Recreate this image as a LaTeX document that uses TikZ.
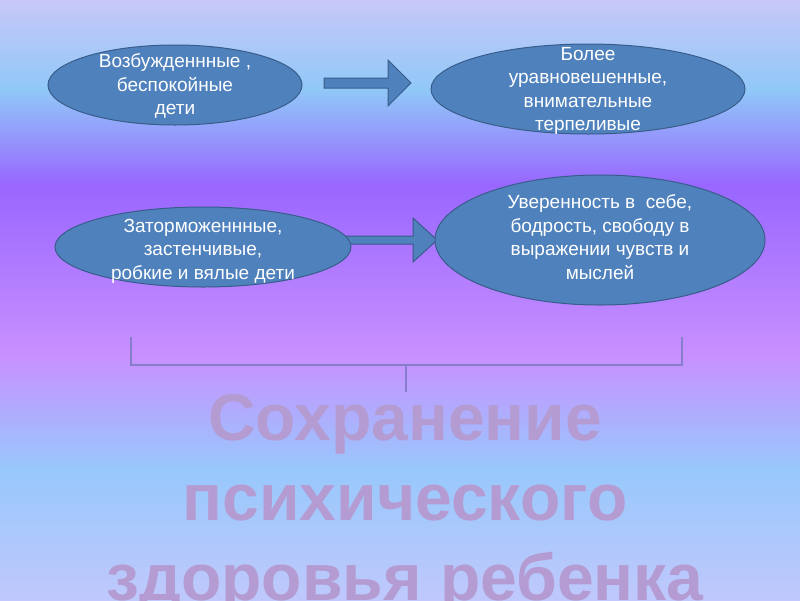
\documentclass[tikz,border=0pt]{standalone}
\usepackage{fontspec}
\setmainfont{Liberation Sans}
\usetikzlibrary{shapes.geometric}
\definecolor{bgA}{HTML}{C8C8F8}
\definecolor{bgB}{HTML}{90C8F8}
\definecolor{bgC}{HTML}{9966FF}
\definecolor{bgD}{HTML}{C890FF}
\definecolor{bgE}{HTML}{98C8FC}
\definecolor{bgF}{HTML}{C0C8FC}
\definecolor{blueFill}{HTML}{4F81BD}
\definecolor{blueLine}{HTML}{385D8A}
\definecolor{titleCol}{HTML}{B49CD2}
\definecolor{brCol}{RGB}{135,125,205}
\tikzset{
  ell/.style={ellipse, draw=blueLine, fill=blueFill, line width=1pt, inner sep=0pt},
  etext/.style={text=white, align=center, inner sep=0pt, font=\fontsize{19}{23.5}\selectfont},
  blockarrow/.style={draw=blueLine, fill=blueFill, line width=1pt, line join=miter},
  ttl/.style={text=titleCol, anchor=base, inner sep=0pt, font=\fontsize{66}{80}\selectfont\bfseries},
  brk/.style={draw=brCol, line width=1.5pt}
}
\begin{document}
\begin{tikzpicture}[x=1pt,y=-1pt]
\useasboundingbox (0,0) rectangle (800,600);
\clip (0,0) rectangle (800,600);
% background
\shade[top color=bgA, bottom color=bgB] (0,-1) rectangle (800,90);
\shade[top color=bgB, bottom color=bgC] (0,89.5) rectangle (800,185);
\shade[top color=bgC, bottom color=bgD] (0,184.5) rectangle (800,355);
\shade[top color=bgD, bottom color=bgE] (0,354.5) rectangle (800,470);
\shade[top color=bgE, bottom color=bgF] (0,469.5) rectangle (800,601);
% arrows
\draw[blockarrow] (324,78) -- (388,78) -- (388,60) -- (411,83) -- (388,106) -- (388,88) -- (324,88) -- cycle;
\draw[blockarrow] (340,236) -- (413,236) -- (413,218) -- (437,240) -- (413,262) -- (413,244) -- (340,244) -- cycle;
% ellipses
\node[ell, minimum width=254pt, minimum height=80pt] (e1) at (175,85) {};
\node[ell, minimum width=314pt, minimum height=90pt] (e2) at (588,89) {};
\node[ell, minimum width=296pt, minimum height=80pt] (e3) at (203,247) {};
\node[ell, minimum width=330pt, minimum height=130pt] (e4) at (600,240) {};
\node[etext] (t1) at (175,86) {Возбужденнные ,\\беспокойные\\дети};
\node[etext] (t2) at (588,91) {Более\\уравновешенные,\\внимательные\\терпеливые};
\node[etext] (t3) at (203,251) {Заторможеннные,\\застенчивые,\\робкие и вялые дети};
\node[etext] (t4) at (600,237) {Уверенность в\ \ себе,\\бодрость, свободу в\\выражении чувств и\\мыслей};
% bracket
\coordinate (bl) at (131,337);
\coordinate (br) at (682,337);
\coordinate (bm) at (406,365);
\coordinate (bs) at (406,392);
\draw[brk] (bl) -- (bl |- bm) -- (br |- bm) -- (br);
\draw[brk] (bm) -- (bs);
% title
\node[ttl] (h1) at (405,440) {Сохранение};
\node[ttl] (h2) at (405,520) {психического};
\node[ttl] (h3) at (405,600) {здоровья ребенка};
\end{tikzpicture}
\end{document}
